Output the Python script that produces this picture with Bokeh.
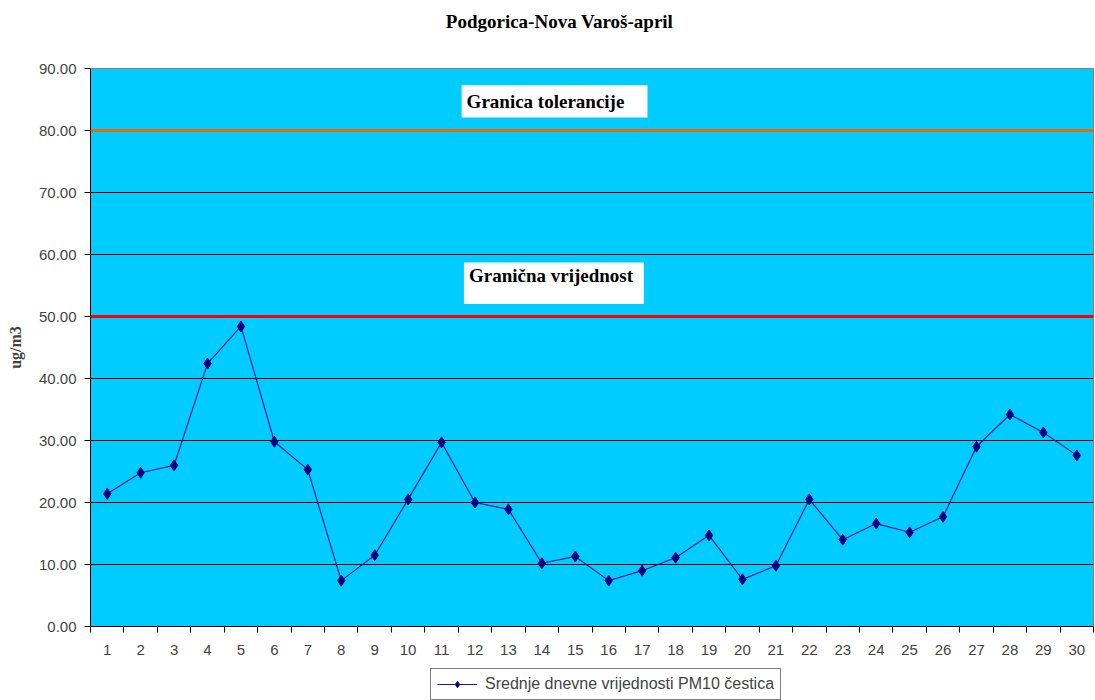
from bokeh.plotting import figure
from bokeh.layouts import column
from bokeh.models import (Span, BoxAnnotation, Label, Legend, LegendItem, FixedTicker,
                          NumeralTickFormatter, Range1d)
from bokeh.embed import file_html
from bokeh.resources import INLINE

days = list(range(1, 31))
pm10 = [21.4, 24.8, 26.0, 42.4, 48.4, 29.8, 25.3, 7.4, 11.5, 20.5,
        29.7, 20.0, 18.9, 10.2, 11.3, 7.4, 9.0, 11.1, 14.7, 7.6,
        9.8, 20.5, 14.0, 16.6, 15.2, 17.7, 29.0, 34.2, 31.3, 27.6]
limit_value = 50
tolerance_value = 80
y_ticks = [0, 10, 20, 30, 40, 50, 60, 70, 80, 90]
title_text = "Podgorica-Nova Varoš-april"
y_label = "ug/m3"
series_label = "Srednje dnevne vrijednosti PM10 čestica"
limit_label = "Granična vrijednost"
tolerance_label = "Granica tolerancije"

LINE_COLOR = "#1A1A9A"
MARK_COLOR = "#000080"


def strip(height):
    f = figure(width=1095, height=height, output_backend="svg", toolbar_location=None,
               x_range=Range1d(0, 1), y_range=Range1d(0, 1),
               x_axis_location=None, y_axis_location=None,
               min_border_left=0, min_border_right=0, min_border_top=0, min_border_bottom=0)
    f.outline_line_color = None
    f.xgrid.visible = False
    f.ygrid.visible = False
    f.border_fill_color = "white"
    f.background_fill_color = "white"
    return f


# title strip (its frame is aligned with the chart's frame, which starts at x=90)
top = strip(40)
top.add_layout(Label(x=469, y=19, x_units="screen", y_units="screen", text=title_text,
                     text_align="center", text_baseline="middle",
                     text_font="Liberation Serif", text_font_size="19px",
                     text_font_style="bold", text_color="black"))

p = figure(width=1095, height=618, output_backend="svg", toolbar_location=None,
           x_range=Range1d(0.5, 30.5), y_range=Range1d(0, 90),
           min_border_left=90, min_border_right=2, min_border_top=28, min_border_bottom=32)

p.background_fill_color = "#00CCFF"
p.border_fill_color = "white"
p.outline_line_color = "#808080"

# axes
p.xaxis.ticker = FixedTicker(ticks=days, minor_ticks=[d + 0.5 for d in range(0, 31)])
p.xaxis.major_tick_out = 0
p.xaxis.major_tick_in = 0
p.xaxis.minor_tick_out = 6
p.xaxis.minor_tick_in = 0
p.xaxis.minor_tick_line_color = "black"
p.xaxis.axis_line_color = "black"
p.xaxis.major_label_text_font = "Liberation Sans"
p.xaxis.major_label_text_font_size = "15px"
p.xaxis.major_label_standoff = 12

p.yaxis.ticker = FixedTicker(ticks=y_ticks)
p.yaxis.formatter = NumeralTickFormatter(format="0.00")
p.yaxis.major_tick_out = 6
p.yaxis.major_tick_in = 0
p.yaxis.minor_tick_line_color = None
p.yaxis.axis_line_color = "black"
p.yaxis.major_label_text_font = "Liberation Sans"
p.yaxis.major_label_text_font_size = "15px"
p.yaxis.major_label_standoff = 8
p.yaxis.axis_label = y_label
p.yaxis.axis_label_text_font = "Liberation Serif"
p.yaxis.axis_label_text_font_style = "bold"
p.yaxis.axis_label_text_font_size = "16px"
p.yaxis.axis_label_standoff = 12

p.xgrid.grid_line_color = None
p.ygrid.grid_line_color = "black"
p.ygrid.grid_line_width = 1

# limit lines
p.add_layout(Span(location=tolerance_value, dimension="width", line_color="#E46C0A", line_width=3))
p.add_layout(Span(location=limit_value, dimension="width", line_color="#FF0000", line_width=3))

# annotation boxes
p.add_layout(BoxAnnotation(left=11.6, right=17.16, bottom=82.1, top=87.3,
                           fill_color="white", fill_alpha=1, line_color=None))
p.add_layout(BoxAnnotation(left=11.67, right=17.05, bottom=52.0, top=58.7,
                           fill_color="white", fill_alpha=1, line_color=None))
p.add_layout(Label(x=11.6, y=84.7, x_offset=5, text=tolerance_label, text_baseline="middle",
                   text_font="Liberation Serif", text_font_style="bold", text_font_size="19px",
                   text_color="black"))
p.add_layout(Label(x=11.67, y=56.6, x_offset=5, text=limit_label, text_baseline="middle",
                   text_font="Liberation Serif", text_font_style="bold", text_font_size="19px",
                   text_color="black"))

# series
p.line(days, pm10, line_color=LINE_COLOR, line_width=1.2)
p.scatter(days, pm10, marker="diamond", size=11, fill_color=MARK_COLOR, line_color=MARK_COLOR)

# legend strip below the chart (its renderers lie outside the strip's ranges)
lg = strip(42)
r_ln = lg.line(days, pm10, line_color=LINE_COLOR, line_width=1.2)
r_mk = lg.scatter(days, pm10, marker="diamond", size=11, fill_color=MARK_COLOR, line_color=MARK_COLOR)
legend = Legend(items=[LegendItem(label=series_label, renderers=[r_ln, r_mk])],
                location=(340, 0), orientation="horizontal",
                label_text_font="Liberation Sans", label_text_font_size="16px",
                border_line_color="black", border_line_width=1,
                glyph_width=40, glyph_height=16, padding=6, margin=0, spacing=0,
                label_standoff=8, background_fill_color="white", background_fill_alpha=1)
lg.add_layout(legend)

layout = column(top, p, lg, spacing=0)
open("out.html", "w").write(file_html(layout, INLINE))
